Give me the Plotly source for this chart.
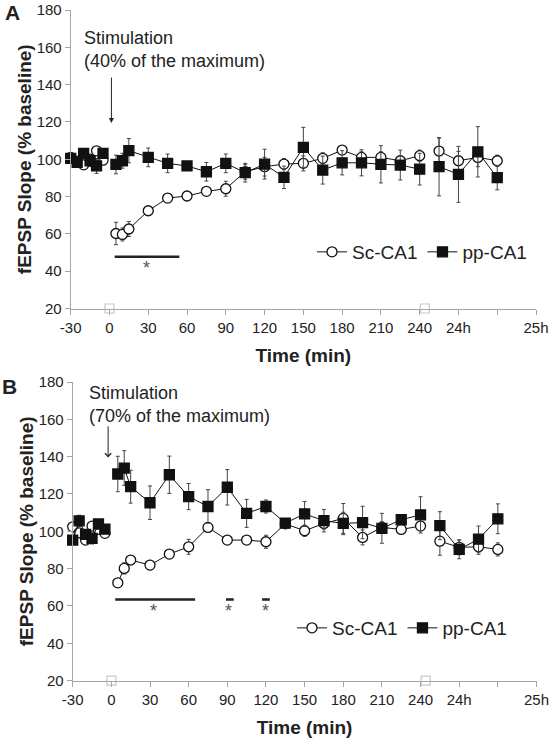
import plotly.graph_objects as go

# ---------------- data ----------------
# x positions (min); 255..300 are the 24 h recordings drawn after the axis break
TIME = [-30, -25, -20, -15, -10, -5, 5, 10, 15, 30, 45, 60, 75, 90, 105, 120,
        135, 150, 165, 180, 195, 210, 225, 240, 255, 270, 285, 300]
GAP_AFTER = [-5, 240]          # line segments break after these time points

TICK_VALS = [-30, 0, 30, 60, 90, 120, 150, 180, 210, 240, 270, 300, 330]
TICK_TEXT = ["-30", "0", "30", "60", "90", "120", "150", "180", "210", "240", "24h", "", "25h"]
Y_TICKS = [20, 40, 60, 80, 100, 120, 140, 160, 180]

# Panel A (40% stimulation)
A_SC = [101, 99, 97, 100, 104.5, 99.5, 60.2, 59.7, 62.6, 72.4, 79.2, 80.3, 82.8, 84.2,
        93.3, 96, 97.4, 97.8, 100.5, 104.9, 101, 101, 99.2, 101.9, 104.4, 99.2, 101, 99.2]
A_SC_ERR = [2, 2, 2, 2, 2, 2, 6, 3.5, 4, 1.5, 1.5, 2, 2, 4, 4, 5, 3, 4, 3, 2, 3, 3,
            2.5, 3, 7, 5, 5, 3]
A_PP = [100.5, 98.3, 103.2, 99.2, 96.4, 103.2, 97.2, 99.2, 104.6, 101, 97.8, 96.4, 93.3,
        97.8, 92.8, 97.4, 90.3, 106.4, 94.2, 98.1, 98.1, 97.3, 96.9, 94.7, 96, 91.9, 104, 90.1]
A_PP_ERR = [2, 2, 2, 3, 4, 2, 5, 4, 6.5, 5, 5, 2, 5, 5, 5, 8, 6, 10.7, 7.5, 6.5, 7, 10,
            8, 8.5, 15.6, 15, 13.5, 6.5]

# Panel B (70% stimulation)
B_SC = [102.4, 99.2, 95.3, 102.8, 101, 98.9, 72.4, 80.1, 84.6, 81.9, 87.8, 91.7, 102.1,
        95.3, 95.3, 94.4, 104, 100.3, 104.2, 106.9, 96.7, 102.1, 101, 102.8, 94.7, 91.4, 91.7, 90.3]
B_SC_ERR = [2, 2, 2, 2, 2, 2, 2, 3, 2, 2.5, 1.5, 4, 2, 1.5, 1.5, 3.5, 2, 3, 3, 8, 4, 3,
            2, 2, 7.5, 4, 4, 3.5]
B_PP = [95.3, 105.6, 98.3, 96.2, 103.9, 101.2, 130.7, 133.9, 123.9, 115.3, 130.3, 118.6,
        113.3, 123.6, 109.6, 113.3, 104.4, 109.3, 105.7, 104.2, 104.7, 101.6, 106.2, 108.8,
        103, 90.3, 95.8, 106.7]
B_PP_ERR = [2, 3, 2, 3, 2, 2, 9.5, 9.3, 8.8, 9, 10, 7, 9, 9.5, 7.5, 3.5, 2, 6.7, 6, 6,
            8.7, 8, 2, 9.7, 7.5, 5, 7, 8]

BREAK_MARKS = [0, 244]                       # hollow squares on the time axis
SIG_A = [(4, 54, 47.7, 29)]                  # (start, end, level, star x)
SIG_B = [(3, 65, 63.5, 33), (89, 95, 63.5, 91), (117, 123, 63.5, 119.5)]

FONT = "Arial, Liberation Sans, sans-serif"
TXT = "#222222"
AX = "#a6a6a6"
W, H = 551, 746


def with_gaps(t, v):
    xs, ys = [], []
    for ti, vi in zip(t, v):
        xs.append(ti)
        ys.append(vi)
        if ti in GAP_AFTER:
            xs.append(None)
            ys.append(None)
    return xs, ys


fig = go.Figure()


def add_series(v, err, name, symbol, fill, xa, ya, legend):
    x, y = with_gaps(TIME, v)
    _, e = with_gaps(TIME, err)
    fig.add_trace(go.Scatter(
        x=x, y=y, name=name, mode="lines+markers", xaxis=xa, yaxis=ya,
        legend=legend, cliponaxis=False, connectgaps=False,
        line=dict(color="#111111", width=1),
        marker=dict(symbol=symbol, size=10, color=fill,
                    line=dict(color="#111111", width=1.3)),
        error_y=dict(type="data", array=e, visible=True, color="#444444",
                     thickness=1, width=2),
    ))


add_series(A_SC, A_SC_ERR, "Sc-CA1", "circle", "white", "x", "y", "legend")
add_series(A_PP, A_PP_ERR, "pp-CA1", "square", "#111111", "x", "y", "legend")
add_series(B_SC, B_SC_ERR, "Sc-CA1", "circle", "white", "x2", "y2", "legend2")
add_series(B_PP, B_PP_ERR, "pp-CA1", "square", "#111111", "x2", "y2", "legend2")

for xa, ya in (("x", "y"), ("x2", "y2")):
    fig.add_trace(go.Scatter(
        x=BREAK_MARKS, y=[20] * len(BREAK_MARKS), mode="markers", xaxis=xa, yaxis=ya,
        showlegend=False, cliponaxis=False, hoverinfo="skip",
        marker=dict(symbol="square", size=9, color="white",
                    line=dict(color="#c8c8c8", width=1.2))))

# significance bars
shapes = []
annotations = []
for sig, xr, yr in ((SIG_A, "x", "y"), (SIG_B, "x2", "y2")):
    for x0, x1, lvl, sx in sig:
        shapes.append(dict(type="line", xref=xr, yref=yr, x0=x0, x1=x1, y0=lvl, y1=lvl,
                           line=dict(color="#222222", width=2.5)))
        annotations.append(dict(x=sx, y=lvl - 6, xref=xr, yref=yr, text="*",
                                showarrow=False, font=dict(family=FONT, size=18, color="#555555")))

# stimulation labels and arrows
annotations += [
    dict(x=-21.5, y=158.7, xref="x", yref="y", xanchor="left", yanchor="middle", align="left",
         text="Stimulation<br>(40% of the maximum)", showarrow=False,
         font=dict(family=FONT, size=18, color=TXT)),
    dict(x=1.5, y=119.4, ax=1.5, ay=144.6, xref="x", yref="y", axref="x", ayref="y",
         text="", showarrow=True, arrowhead=2, arrowsize=1, arrowwidth=1, arrowcolor="#222222"),
    dict(x=-19.2, y=167.8, xref="x2", yref="y2", xanchor="left", yanchor="middle", align="left",
         text="Stimulation<br>(70% of the maximum)", showarrow=False,
         font=dict(family=FONT, size=18, color=TXT)),
    dict(x=-2.5, y=139.6, ax=-2.5, ay=157, xref="x2", yref="y2", axref="x2", ayref="y2",
         text="", showarrow=True, arrowhead=4, arrowsize=1.2, arrowwidth=1, arrowcolor="#222222"),
    dict(x=12 / W, y=1 - 12 / H, xref="paper", yref="paper", xanchor="center", yanchor="middle",
         text="<b>A</b>", showarrow=False, font=dict(family=FONT, size=21, color=TXT)),
    dict(x=9 / W, y=1 - 386 / H, xref="paper", yref="paper", xanchor="center", yanchor="middle",
         text="<b>B</b>", showarrow=False, font=dict(family=FONT, size=21, color=TXT)),
]


def xaxis(domain, anchor):
    return dict(domain=domain, anchor=anchor, range=[-30, 330], tickmode="array",
                tickvals=TICK_VALS, ticktext=TICK_TEXT, showline=True, linecolor=AX,
                linewidth=1, ticks="outside", ticklen=5, tickcolor=AX, showgrid=False,
                zeroline=False, automargin=False, ticklabeloverflow="allow",
                tickfont=dict(family=FONT, size=15, color=TXT),
                title=dict(text="<b>Time (min)</b>", standoff=14,
                           font=dict(family=FONT, size=19, color=TXT)))


def yaxis(domain, anchor):
    return dict(domain=domain, anchor=anchor, range=[20, 180], tickmode="array",
                tickvals=Y_TICKS, showline=True, linecolor=AX, linewidth=1,
                ticks="outside", ticklen=5, tickcolor=AX, showgrid=False, zeroline=False,
                automargin=False, ticklabeloverflow="allow",
                tickfont=dict(family=FONT, size=15, color=TXT),
                title=dict(text="<b>fEPSP Slope (% baseline)</b>", standoff=0,
                           font=dict(family=FONT, size=19, color=TXT)))


fig.update_layout(
    width=W, height=H, paper_bgcolor="white", plot_bgcolor="white",
    margin=dict(l=0, r=0, t=0, b=0, autoexpand=False),
    xaxis=xaxis([70.7 / W, 536 / W], "y"),
    yaxis=yaxis([1 - 308.5 / H, 1 - 10 / H], "x"),
    xaxis2=xaxis([72.7 / W, 536.5 / W], "y2"),
    yaxis2=yaxis([1 - 680.6 / H, 1 - 382 / H], "x2"),
    shapes=shapes, annotations=annotations,
    legend=dict(orientation="h", x=532 / W, y=1 - 252 / H, xanchor="right",
                yanchor="middle", itemwidth=30, bgcolor="rgba(0,0,0,0)",
                font=dict(family=FONT, size=19, color=TXT), tracegroupgap=0),
    legend2=dict(orientation="h", x=512 / W, y=1 - 628 / H, xanchor="right",
                 yanchor="middle", itemwidth=30, bgcolor="rgba(0,0,0,0)",
                 font=dict(family=FONT, size=19, color=TXT), tracegroupgap=0),
    showlegend=True,
)

# the page body has a default 8px margin; remove it so the figure fills the window
fig.write_html("out.html", config={"displayModeBar": False},
               post_script="document.body.style.margin='0px';document.body.style.overflow='hidden';")
